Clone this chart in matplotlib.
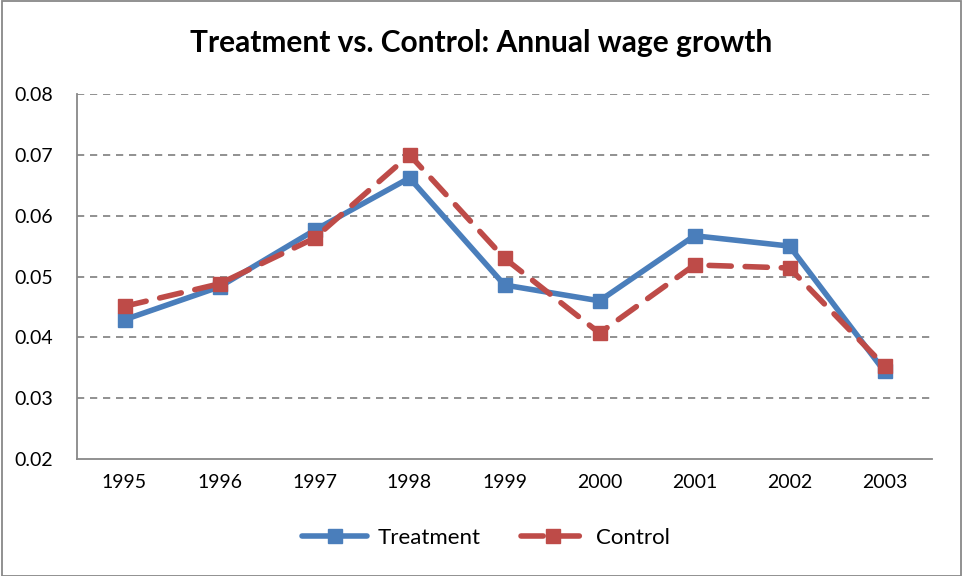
import matplotlib
matplotlib.use("Agg")
import matplotlib.pyplot as plt
from matplotlib.patches import Rectangle

years = ["1995", "1996", "1997", "1998", "1999", "2000", "2001", "2002", "2003"]
treatment = [0.0429, 0.0483, 0.0576, 0.0662, 0.0486, 0.0460, 0.0567, 0.0550, 0.0344]
control = [0.0451, 0.0488, 0.0563, 0.0700, 0.0530, 0.0407, 0.0519, 0.0514, 0.0353]
yticks = [0.02, 0.03, 0.04, 0.05, 0.06, 0.07, 0.08]

plt.rcParams['font.family'] = ['Lato', 'DejaVu Sans']

fig = plt.figure(figsize=(9.63, 5.76), dpi=100)
ax = fig.add_axes([77/963, 1-459/576, (932-77)/963, (459-94)/576])

x = list(range(len(years)))
blue = "#4A7EBB"
red = "#BE4B48"
ax.plot(x, treatment, color=blue, lw=4, marker="s", ms=10, mfc=blue, mec=blue,
        label="Treatment", solid_capstyle="round", solid_joinstyle="round", zorder=3)
ax.plot(x, control, color=red, lw=4, marker="s", ms=10, mfc=red, mec=red,
        dashes=(4, 2.5), dash_capstyle="round", label="Control", zorder=4)

ax.set_xlim(-0.5, len(years) - 0.5)
ax.set_ylim(0.02, 0.08)
ax.set_yticks(yticks)
ax.set_yticklabels([f"{v:.2f}" for v in yticks])
ax.set_xticks(x)
ax.set_xticklabels(years)
ax.tick_params(axis="both", length=0, labelsize=14, colors="black")
ax.tick_params(axis="x", pad=11)
ax.tick_params(axis="y", pad=17)
for v in yticks[1:]:
    ax.axhline(v, color="#888888", lw=1.3, ls=(0, (4, 3.2)), zorder=1)
for s in ["top", "right"]:
    ax.spines[s].set_visible(False)
for s in ["left", "bottom"]:
    ax.spines[s].set_color("#888888")
    ax.spines[s].set_linewidth(1.3)

fig.text(0.5, 1-43/576, "Treatment vs. Control: Annual wage growth", ha="center", va="center",
         fontsize=21.5, fontweight="bold")

leg = fig.legend(loc="center", bbox_to_anchor=(0.505, 1-538/576), ncol=2, frameon=False,
                 fontsize=16, handlelength=2.9, columnspacing=1.8, handletextpad=0.5)

fig.patches.append(Rectangle((0.002, 0.0), 0.996, 0.998, transform=fig.transFigure,
                             fill=False, edgecolor="#888888", lw=1.3))

fig.savefig("out.png", dpi=100)
